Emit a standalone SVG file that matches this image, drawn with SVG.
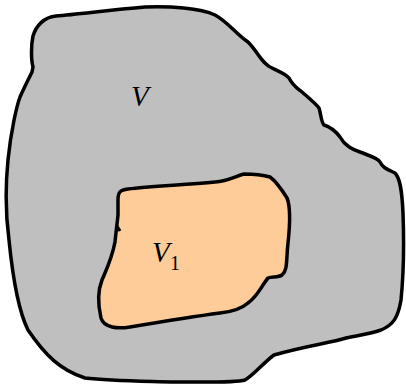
<svg xmlns="http://www.w3.org/2000/svg" width="406" height="385" viewBox="0 0 406 385">
<style>
.region{stroke:#000;stroke-width:3.5;stroke-linejoin:round;stroke-linecap:round}
.lbl{font-family:"Liberation Serif",serif;font-style:italic;font-size:29px;fill:#000}
.sub{font-family:"Liberation Serif",serif;font-size:20px;fill:#000}
</style>
<rect width="406" height="385" fill="#fff"/>
<g id="outer">
<path class="region" fill="#bfbfbf" d="M33,67 C31,60 31,45 33,36 C36,26 44,17 56,16 C80,14 110,10 145,7 C170,6 200,8 215,15 C228,22 236,34 248,42 C258,52 262,64 272,68 C280,72 286,74 289,78 C293,86 297,88 302,92 C310,99 316,104 319,108 C321,114 321,122 324,125 C330,127 335,130 340,137 C345,146 352,149 360,152 C370,156 378,158 380,162 C383,168 387,169 395,173 C400,178 402,190 403,213 C404,240 404,270 401,300 C398,318 393,325 381,330 C370,334 355,336 346,338 C330,343 305,346 274,355 C262,364 254,375 245,380 C235,383 200,382 175,382 C140,381 110,381 85,378 C60,370 45,355 28,330 C18,310 13,280 9,240 C5,210 6,180 8,160 C11,130 17,105 20,97 C24,88 28,80 32,72 Z"/>
<text class="lbl" x="131" y="106">V</text>
</g>
<g id="inner">
<path class="region" fill="#fecc99" d="M118,200 C118,192 120,190 128,189 C150,186 185,185 215,182 C228,181 236,176 244,174 C252,174 263,175 270,177 C277,182 282,190 287,198 C291,208 290,225 288,243 C286,260 288,270 282,275 C278,278 272,276 268,278 C262,285 258,296 248,303 C240,310 230,312 220,313 C190,317 160,322 130,327 C118,329 104,328 101,318 C98,305 98,290 102,280 C108,266 112,258 115,242 C116,232 117,225 118,215 Z"/>
<path d="M117,226 L120,231" stroke="#000" stroke-width="3" fill="none"/>
<text class="lbl" x="152" y="262">V</text>
<text class="sub" x="170" y="270">1</text>
</g>
</svg>
